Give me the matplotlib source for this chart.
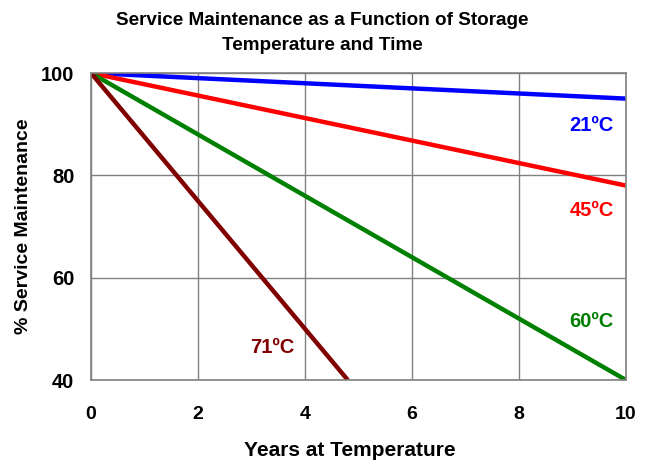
import matplotlib
matplotlib.use("Agg")
import matplotlib.pyplot as plt

plt.rcParams['font.family'] = ['Liberation Sans', 'DejaVu Sans']
plt.rcParams['font.weight'] = 'bold'

years_21 = [0, 10]
maint_21 = [100, 95]
years_45 = [0, 10]
maint_45 = [100, 78]
years_60 = [0, 10]
maint_60 = [100, 40]
years_71 = [0, 4.8]
maint_71 = [100, 40]

series = [
    (years_21, maint_21, 'blue', '21ºC', 9.77, 89.8),
    (years_45, maint_45, 'red', '45ºC', 9.77, 73.2),
    (years_60, maint_60, 'green', '60ºC', 9.77, 51.5),
    (years_71, maint_71, '#800000', '71ºC', 3.8, 46.3),
]

fig = plt.figure(figsize=(6.48, 4.66), dpi=100)
ax = fig.add_axes([0.1404, 0.1845, 0.8256, 0.6588])

for xs, ys, c, lab, tx, ty in series:
    ax.plot(xs, ys, color=c, lw=3.2, solid_capstyle='butt')
    ax.text(tx, ty, lab, color=c, fontsize=14.5, fontweight='bold', ha='right', va='center')

ax.set_xlim(0, 10)
ax.set_ylim(40, 100)
ax.set_xticks([0, 2, 4, 6, 8, 10])
ax.set_yticks([40, 60, 80, 100])
ax.grid(True, color='#808080', lw=1.0)
ax.set_axisbelow(True)
for s in ax.spines.values():
    s.set_color('#808080')
    s.set_linewidth(1.2)
ax.tick_params(axis='x', length=0, labelsize=14, pad=19)
ax.tick_params(axis='y', length=0, labelsize=14.5, pad=12)
for t in ax.get_xticklabels() + ax.get_yticklabels():
    t.set_fontweight('bold')

fig.text(0.54, 0.034, 'Years at Temperature', fontsize=15, fontweight='bold',
         ha='center', va='center')
fig.text(0.036, 0.515, '% Service Maintenance', fontsize=14, fontweight='bold',
         ha='center', va='center', rotation=90)
fig.text(0.497, 0.955, 'Service Maintenance as a Function of Storage', fontsize=13.6,
         fontweight='bold', ha='center', va='center')
fig.text(0.497, 0.902, 'Temperature and Time', fontsize=13.6,
         fontweight='bold', ha='center', va='center')

fig.savefig('out.png', dpi=100)
